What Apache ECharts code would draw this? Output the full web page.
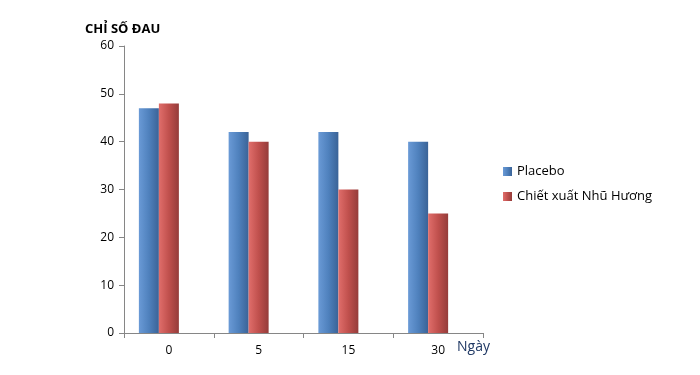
<!DOCTYPE html>
<html><head><meta charset="utf-8">
<script src="https://cdn.jsdelivr.net/npm/echarts@6/dist/echarts.min.js"></script>
<style>html,body{margin:0;padding:0;background:#fff}#c{width:700px;height:375px}</style>
</head><body><div id="c"></div>
<script>
const categories = ['0', '5', '15', '30'];
const placebo = [47, 42, 42, 40];
const nhuHuong = [48, 40, 30, 25];
const yTicks = [0, 10, 20, 30, 40, 50, 60];
const seriesNames = ['Placebo', 'Chiết xuất Nhũ Hương'];

const blue = {type:'linear',x:0,y:0,x2:1,y2:0,colorStops:[{offset:0,color:'#6a9ad6'},{offset:0.5,color:'#4f81bd'},{offset:1,color:'#3a6397'}]};
const red = {type:'linear',x:0,y:0,x2:1,y2:0,colorStops:[{offset:0,color:'#e06e6b'},{offset:0.5,color:'#c0504d'},{offset:1,color:'#953c3a'}]};
const font = 'Open Sans, Liberation Sans, sans-serif';
const chart = echarts.init(document.getElementById('c'));
chart.setOption({
  animation: false,
  textStyle: {fontFamily: font},
  title: {text: 'CHỈ SỐ ĐAU', left: 80, top: 18, textStyle: {fontSize: 13, fontWeight: 'bold', color: '#000', fontFamily: font}},
  legend: {
    data: seriesNames, orient: 'vertical', left: 498, top: 160, itemGap: 12,
    itemWidth: 9, itemHeight: 9, icon: 'rect',
    textStyle: {fontSize: 13, color: '#000', fontFamily: font}
  },
  graphic: [{type: 'text', left: 457, top: 340, style: {text: 'Ngày', fill: '#1f3864', fontSize: 14, fontFamily: font}}],
  grid: {left: 124, right: 217, top: 46, bottom: 42, containLabel: false, outerBoundsMode: 'none'},
  xAxis: {
    type: 'category', data: categories,
    axisLine: {lineStyle: {color: '#868686'}},
    axisTick: {show: true, length: 5, lineStyle: {color: '#868686'}},
    axisLabel: {color: '#000', fontSize: 12, margin: 12}
  },
  yAxis: {
    type: 'value', min: 0, max: 60, interval: 10,
    axisLine: {show: true, lineStyle: {color: '#868686'}},
    axisTick: {show: true, length: 5, lineStyle: {color: '#868686'}},
    splitLine: {show: false},
    axisLabel: {color: '#000', fontSize: 12, margin: 10,
      formatter: v => yTicks.includes(v) ? String(v) : ''}
  },
  series: [
    {name: seriesNames[0], type: 'bar', data: placebo, barWidth: 20, barGap: '0%', itemStyle: {color: blue}},
    {name: seriesNames[1], type: 'bar', data: nhuHuong, barWidth: 20, barGap: '0%', itemStyle: {color: red}},
    {name: 'spacer', type: 'bar', data: placebo.map(() => 0), barWidth: 20, barGap: '0%', itemStyle: {color: 'transparent'}, silent: true}
  ]
});
</script></body></html>
